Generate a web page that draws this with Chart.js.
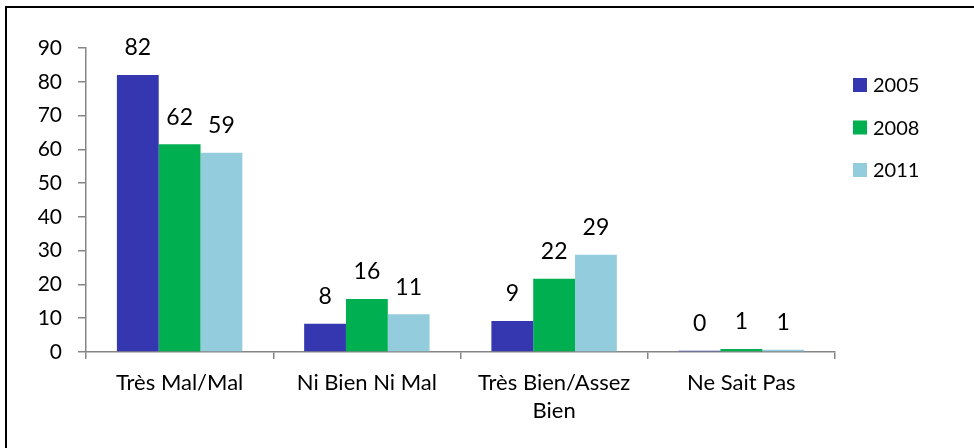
<!DOCTYPE html>
<html>
<head>
<meta charset="utf-8">
<script src="https://cdn.jsdelivr.net/npm/chart.js@4"></script>
<style>
  body { margin: 0; background: #fff; }
  #wrap { position: relative; width: 974px; height: 448px; }
</style>
</head>
<body>
<div id="wrap"><canvas id="chart" width="974" height="448"></canvas></div>
<script>
// categories and series
var categories = [['Très Mal/Mal'], ['Ni Bien Ni Mal'], ['Très Bien/Assez', 'Bien'], ['Ne Sait Pas']];
var years = ['2005', '2008', '2011'];
var values2005 = [82, 8.4, 9.2, 0.4];
var values2008 = [61.5, 15.7, 21.7, 0.9];
var values2011 = [59, 11.2, 28.8, 0.7];
var colors = ['#3537B0', '#00B050', '#93CDDD'];

var FONT = 'Lato';

// valeurs au-dessus des barres
var barLabels = {
    id: 'barLabels',
    afterDatasetsDraw(chart) {
        var ctx = chart.ctx;
        ctx.save();
        ctx.font = '23px ' + FONT;
        ctx.fillStyle = '#000';
        ctx.textAlign = 'center';
        ctx.textBaseline = 'middle';
        chart.data.datasets.forEach((ds, i) => {
            chart.getDatasetMeta(i).data.forEach((bar, j) => {
                ctx.fillText(Math.round(ds.data[j]), bar.x, bar.y - 27);
            });
        });
        ctx.restore();
    }
};

// légende à droite + cadre
var sideLegend = {
    id: 'sideLegend',
    afterDraw(chart) {
        var ctx = chart.ctx;
        ctx.save();
        ctx.fillStyle = '#000';
        ctx.fillRect(5, 6, 2, 442);
        ctx.fillRect(5, 6, 969, 2);
        ctx.font = '20px ' + FONT;
        ctx.textBaseline = 'middle';
        chart.data.datasets.forEach((ds, i) => {
            var y = 85 + i * 42.5;
            ctx.fillStyle = ds.backgroundColor;
            ctx.fillRect(853, y - 7, 14, 14);
            ctx.fillStyle = '#000';
            ctx.fillText(ds.label, 873, y + 1);
        });
        ctx.restore();
    }
};

var ctx = document.getElementById('chart').getContext('2d');
var chart = new Chart(ctx, {
    type: 'bar',
    data: {
        labels: categories,
        datasets: [
            { label: years[0], data: values2005, backgroundColor: colors[0] },
            { label: years[1], data: values2008, backgroundColor: colors[1] },
            { label: years[2], data: values2011, backgroundColor: colors[2] }
        ]
    },
    options: {
        responsive: false,
        animation: false,
        events: [],
        datasets: {
            bar: { categoryPercentage: 0.67, barPercentage: 1.0 }
        },
        layout: { padding: { left: 9, top: 48, right: 139, bottom: 0 } },
        plugins: {
            legend: { display: false },
            tooltip: { enabled: false }
        },
        scales: {
            x: {
                offset: true,
                grid: {
                    offset: true,
                    drawOnChartArea: false,
                    drawTicks: true,
                    tickLength: 7,
                    color: '#868686',
                    lineWidth: 1.5
                },
                border: { display: true, color: '#868686', width: 1.5 },
                ticks: {
                    color: '#000',
                    font: { family: FONT, size: 22, lineHeight: 1.27 },
                    padding: 10,
                    maxRotation: 0,
                    autoSkip: false
                },
                afterFit(scale) { scale.height = 96; }
            },
            y: {
                min: 0,
                max: 90,
                grid: {
                    drawOnChartArea: false,
                    drawTicks: true,
                    tickLength: 8,
                    color: '#868686',
                    lineWidth: 1.5
                },
                border: { display: true, color: '#868686', width: 1.5 },
                ticks: {
                    stepSize: 10,
                    color: '#000',
                    font: { family: FONT, size: 21 },
                    padding: 16
                },
                afterFit(scale) { scale.width = 77; }
            }
        }
    },
    plugins: [barLabels, sideLegend]
});
</script>
</body>
</html>
